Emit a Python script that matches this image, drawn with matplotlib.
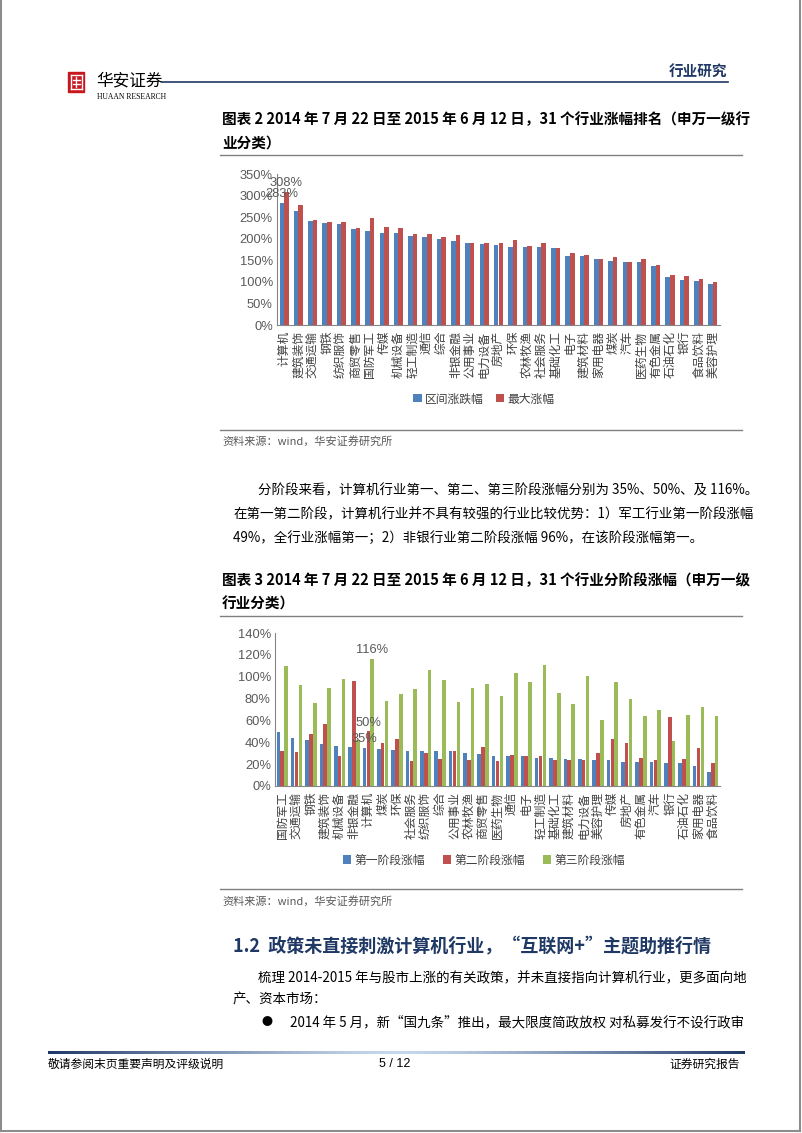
import numpy as np
import matplotlib
matplotlib.use("Agg")
import matplotlib.pyplot as plt
from matplotlib.patches import Rectangle
from matplotlib.lines import Line2D

plt.rcParams['font.family'] = ['Noto Sans CJK SC', 'DejaVu Sans']

W, H = 802, 1133

# chart 1: ranking of 31 industries
rank_names = ['计算机', '建筑装饰', '交通运输', '钢铁', '纺织服饰', '商贸零售', '国防军工',
              '传媒', '机械设备', '轻工制造', '通信', '综合', '非银金融', '公用事业',
              '电力设备', '房地产', '环保', '农林牧渔', '社会服务', '基础化工', '电子',
              '建筑材料', '家用电器', '煤炭', '汽车', '医药生物', '有色金属', '石油石化',
              '银行', '食品饮料', '美容护理']
range_chg = [283, 265, 240, 236, 233, 222, 219, 214, 214, 206, 204, 200, 194, 189,
             187, 186, 181, 180, 180, 178, 160, 159, 153, 149, 147, 145, 137, 111,
             104, 102, 94]
max_chg = [308, 279, 243, 239, 238, 224, 247, 226, 224, 212, 212, 203, 208, 191,
           189, 189, 197, 183, 189, 178, 168, 163, 154, 158, 147, 152, 138, 115,
           114, 106, 100]

# chart 2: stage gains
stage_names = ['国防军工', '交通运输', '钢铁', '建筑装饰', '机械设备', '非银金融', '计算机',
               '煤炭', '环保', '社会服务', '纺织服饰', '综合', '公用事业', '农林牧渔',
               '商贸零售', '医药生物', '通信', '电子', '轻工制造', '基础化工', '建筑材料',
               '电力设备', '美容护理', '传媒', '房地产', '有色金属', '汽车', '银行',
               '石油石化', '家用电器', '食品饮料']
stage1 = [49, 44, 42, 38, 37, 36, 35, 34, 33, 32, 32, 32, 32, 30, 29, 27, 27, 27,
          26, 26, 25, 25, 24, 24, 22, 22, 22, 21, 21, 18, 13]
stage2 = [32, 31, 48, 57, 27, 96, 50, 39, 43, 23, 30, 25, 32, 24, 36, 23, 28, 27,
          27, 24, 24, 24, 30, 43, 39, 26, 24, 63, 25, 35, 21]
stage3 = [110, 92, 76, 90, 98, 42, 116, 78, 84, 89, 106, 97, 77, 90, 93, 82, 103, 95,
          111, 85, 75, 101, 60, 95, 80, 64, 70, 41, 65, 72, 64]

BLUE, RED, GREEN = '#4F81BD', '#C0504D', '#9BBB59'
NAVY = '#1F3864'


def fx(x):
    return x / W


def fy(y):
    return 1 - y / H


def txt(x, y, s, size=9.7, **kw):
    kw.setdefault('va', 'center')
    kw.setdefault('ha', 'left')
    fig.text(fx(x), fy(y), s, fontsize=size, **kw)


def hline(x0, x1, y, color='#808080', lw=1.0):
    fig.add_artist(Line2D([fx(x0), fx(x1)], [fy(y), fy(y)], color=color, lw=lw,
                          transform=fig.transFigure))


fig = plt.figure(figsize=(W / 100, H / 100), dpi=100)

# page frame
for xs, ys in [([1, 1], [0, 1131]), ([800, 800], [0, 1131]), ([1, 800], [1131, 1131])]:
    fig.add_artist(Line2D([fx(v) for v in xs], [fy(v) for v in ys], color='#8c8c8c',
                          lw=1.5, transform=fig.transFigure))

# header
fig.add_artist(Rectangle((fx(68), fy(92)), 16 / W, 20 / H, color='#C8161D',
                         transform=fig.transFigure))
for seg in [([70.5, 81.5], [75, 75]), ([70.5, 81.5], [89, 89]), ([70.5, 70.5], [75, 89]),
            ([81.5, 81.5], [75, 89]), ([76, 76], [77, 87]), ([72.5, 79.5], [80, 80]),
            ([72.5, 79.5], [84, 84])]:
    fig.add_artist(Line2D([fx(v) for v in seg[0]], [fy(v) for v in seg[1]],
                          color='white', lw=1.0, transform=fig.transFigure))
txt(96, 81, '华安证券', size=12, style='italic')
txt(97, 97, 'HUAAN RESEARCH', size=5.5, family='Liberation Serif')
hline(162, 728, 82, color=NAVY, lw=1.2)
txt(727, 72, '行业研究', size=10.5, ha='right', fontweight='bold', color=NAVY)

# chart 1 title
txt(222, 119, '图表 2 2014 年 7 月 22 日至 2015 年 6 月 12 日，31 个行业涨幅排名（申万一级行',
    size=10.5, fontweight='bold')
txt(222, 143, '业分类）', size=10.5, fontweight='bold')
hline(220, 742, 155)

tick_kw = dict(family='Liberation Sans', color='#595959')

ax1 = fig.add_axes([fx(277), fy(325), (720 - 277) / W, (325 - 174) / H])
x = np.arange(len(rank_names))
ax1.bar(x - 0.16, range_chg, 0.32, color=BLUE, label='区间涨跌幅')
ax1.bar(x + 0.16, max_chg, 0.32, color=RED, label='最大涨幅')
ax1.set_xlim(-0.5, len(rank_names) - 0.5)
ax1.set_ylim(0, 350)
ax1.set_yticks(range(0, 351, 50))
ax1.set_yticklabels([f'{v}%' for v in range(0, 351, 50)], fontsize=9.3, **tick_kw)
ax1.set_xticks(x)
ax1.set_xticklabels(rank_names, rotation=90, fontsize=8.5, color='#404040', va='top')
ax1.annotate(f'{max_chg[0]}%', (x[0] + 0.16, max_chg[0]), xytext=(0, 2),
             textcoords='offset points', ha='center', va='bottom', fontsize=9.3, **tick_kw)
ax1.annotate(f'{range_chg[0]}%', (x[0] - 0.16, range_chg[0]), xytext=(0, 2),
             textcoords='offset points', ha='center', va='bottom', fontsize=9.3, **tick_kw)
ax1.legend(loc='center', bbox_to_anchor=(fx(484), fy(399)), bbox_transform=fig.transFigure,
           ncol=2, frameon=False, fontsize=8.5, handlelength=0.7, handleheight=0.7,
           handletextpad=0.3, columnspacing=1.0, labelcolor='#404040')

hline(220, 742, 430)
txt(222, 441, '资料来源：wind，华安证券研究所', size=8, color='#595959')

# paragraph
txt(258, 490, '分阶段来看，计算机行业第一、第二、第三阶段涨幅分别为 35%、50%、及 116%。')
txt(233, 514, '在第一第二阶段，计算机行业并不具有较强的行业比较优势：1）军工行业第一阶段涨幅')
txt(233, 538, '49%，全行业涨幅第一；2）非银行业第二阶段涨幅 96%，在该阶段涨幅第一。')

# chart 2 title
txt(222, 580, '图表 3 2014 年 7 月 22 日至 2015 年 6 月 12 日，31 个行业分阶段涨幅（申万一级',
    size=10.5, fontweight='bold')
txt(222, 604, '行业分类）', size=10.5, fontweight='bold')
hline(220, 742, 616)

ax2 = fig.add_axes([fx(275), fy(786), (720 - 275) / W, (786 - 633) / H])
x2 = np.arange(len(stage_names))
ax2.bar(x2 - 0.27, stage1, 0.25, color=BLUE, label='第一阶段涨幅')
ax2.bar(x2, stage2, 0.25, color=RED, label='第二阶段涨幅')
ax2.bar(x2 + 0.27, stage3, 0.25, color=GREEN, label='第三阶段涨幅')
ax2.set_xlim(-0.5, len(stage_names) - 0.5)
ax2.set_ylim(0, 140)
ax2.set_yticks(range(0, 141, 20))
ax2.set_yticklabels([f'{v}%' for v in range(0, 141, 20)], fontsize=9.3, **tick_kw)
ax2.set_xticks(x2)
ax2.set_xticklabels(stage_names, rotation=90, fontsize=8.5, color='#404040', va='top')
ci = stage_names.index('计算机')
for off, vals in [(-0.27, stage1), (0, stage2), (0.27, stage3)]:
    ax2.annotate(f'{vals[ci]}%', (ci + off, vals[ci]), xytext=(0, 2),
                 textcoords='offset points', ha='center', va='bottom', fontsize=9.3, **tick_kw)
ax2.legend(loc='center', bbox_to_anchor=(fx(484), fy(860)), bbox_transform=fig.transFigure,
           ncol=3, frameon=False, fontsize=8.5, handlelength=0.7, handleheight=0.7,
           handletextpad=0.3, columnspacing=1.5, labelcolor='#404040')

for ax in (ax1, ax2):
    for s in ('top', 'right'):
        ax.spines[s].set_visible(False)
    for s in ('left', 'bottom'):
        ax.spines[s].set_color('#868686')
    ax.tick_params(axis='x', length=0, pad=4)
    ax.tick_params(axis='y', length=0, pad=3)

hline(220, 742, 889)
txt(222, 901, '资料来源：wind，华安证券研究所', size=8, color='#595959')

# section heading and text
txt(233, 947, '1.2  政策未直接刺激计算机行业，“互联网+”主题助推行情', size=13,
    fontweight='bold', color=NAVY)
txt(258, 978, '梳理 2014-2015 年与股市上涨的有关政策，并未直接指向计算机行业，更多面向地')
txt(233, 1000, '产、资本市场：')
txt(261, 1022, '●', size=8)
txt(290, 1022, '2014 年 5 月，新“国九条”推出，最大限度简政放权 对私募发行不设行政审')

# footer gradient line
gax = fig.add_axes([fx(48), fy(1054), (745 - 48) / W, 3.5 / H])
u = np.linspace(-1, 1, 300)
tt = np.abs(u) ** 1.3
c0 = np.array([0.12, 0.22, 0.40])
c1 = np.array([0.78, 0.85, 0.93])
grad = (c1[None, :] + (c0 - c1)[None, :] * tt[:, None])[None, :, :]
gax.imshow(grad, aspect='auto', extent=(0, 1, 0, 1))
gax.set_axis_off()
txt(48, 1064, '敬请参阅末页重要声明及评级说明', size=8.5)
txt(395, 1064, '5 / 12', size=9, ha='center', family='Liberation Sans')
txt(740, 1064, '证券研究报告', size=8.5, ha='right')

fig.savefig('out.png', dpi=100)
